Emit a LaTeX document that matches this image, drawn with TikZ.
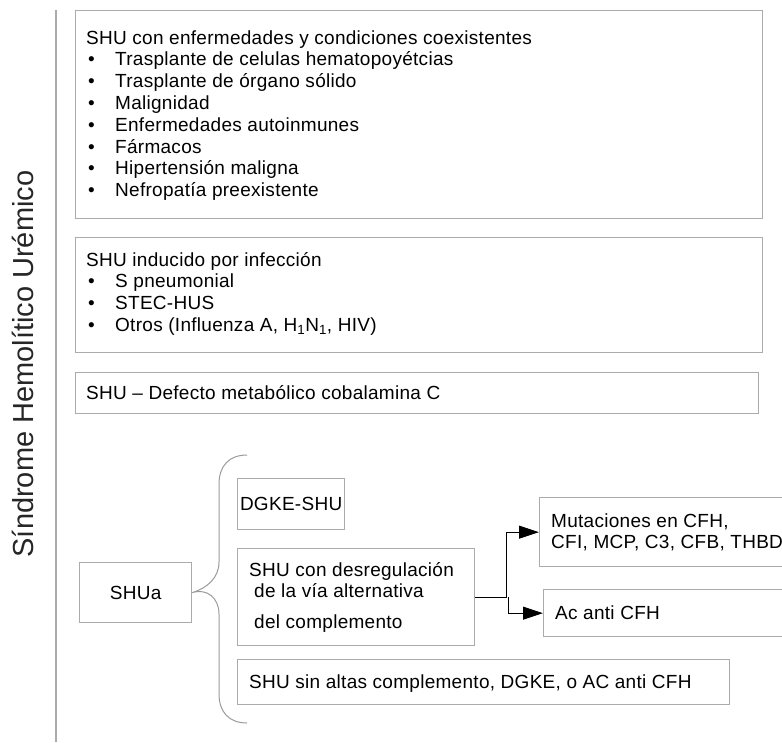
\documentclass[tikz,border=0pt]{standalone}
\usepackage{fontspec}
\setmainfont{Liberation Sans}
\newfontfamily\bodyfont{Liberation Sans}[LetterSpace=1.5]
\usetikzlibrary{arrows.meta}
\definecolor{boxline}{HTML}{ABABAB}
\definecolor{bracegray}{HTML}{9A9A9A}
\definecolor{titlegray}{HTML}{262626}
\newcommand\bodytext{\bodyfont\fontsize{19}{22}\selectfont}
\newcommand\titletext{\fontsize{29}{34}\selectfont}

\begin{document}
\begin{tikzpicture}[x=1pt,y=-1pt,
  box/.style={draw=boxline, line width=1.3pt, rectangle, inner sep=0pt, anchor=north west, font=\bodytext},
  txt/.style={anchor=base west, inner sep=0pt, font=\bodytext},
  link/.style={draw=black, line width=1pt},
  tip/.style={-{Triangle[length=20pt,width=13pt]}}]
\useasboundingbox (0,0) rectangle (782,742);
\clip (0,0) rectangle (782,742);

% side title and rule
\node[anchor=base, rotate=90, inner sep=0pt, font=\titletext, text=titlegray] (title) at (33,364) {Síndrome Hemolítico Urémico};
\draw[draw=boxline, line width=1.5pt] (56,10) -- (56,742);

% upper category boxes
\node[box, minimum width=687pt, minimum height=208pt] (coex) at (75,10) {};
\node[box, minimum width=687pt, minimum height=115pt] (inf) at (75,237) {};
\node[box, minimum width=683pt, minimum height=41pt] (cob) at (75,372) {};

\node[txt] (coexh) at (86,44) {SHU con enfermedades y condiciones coexistentes};
\foreach \t [count=\i] in {Trasplante de celulas hematopoyétcias, Trasplante de órgano sólido, Malignidad, Enfermedades autoinmunes, Fármacos, Hipertensión maligna, Nefropatía preexistente}{
  \node[txt] (coexb\i) at (88,{44+21.83*\i}) {•};
  \node[txt] (coexi\i) at (115,{44+21.83*\i}) {\t};
}

\node[txt] (infh) at (86,266) {SHU inducido por infección};
\foreach \t [count=\i] in {S pneumonial, STEC-HUS, {Otros (Influenza A, H\textsubscript{1}N\textsubscript{1}, HIV)}}{
  \node[txt] (infb\i) at (88,{266+21.8*\i}) {•};
  \node[txt] (infi\i) at (115,{266+21.8*\i}) {\t};
}

\node[txt] (cobt) at (86,399) {SHU – Defecto metabólico cobalamina C};

% aHUS branch
\node[box, minimum width=112pt, minimum height=60pt] (shua) at (79,562) {SHUa};
\node[box, minimum width=107pt, minimum height=51pt] (dgke) at (237,478) {DGKE-SHU};
\node[box, minimum width=237pt, minimum height=97pt] (desreg) at (237,548) {};
\node[box, minimum width=492pt, minimum height=45pt] (sin) at (237,659) {};
\node[box, minimum width=270pt, minimum height=69pt] (mut) at (539,497) {};
\node[box, minimum width=260pt, minimum height=47pt] (acf) at (543,589) {};

\node[txt] (desreg1) at (249,576) {SHU con desregulación};
\node[txt] (desreg2) at (254,597) {de la vía alternativa};
\node[txt] (desreg3) at (254,628) {del complemento};
\node[txt] (sint) at (249,688) {SHU sin altas complemento, DGKE, o AC anti CFH};
\node[txt] (mut1) at (551,527) {Mutaciones en CFH,};
\node[txt] (mut2) at (551,548) {CFI, MCP, C3, CFB, THBD};
\node[txt] (acft) at (555,619) {Ac anti CFH};

% curly brace grouping the aHUS subtypes
\draw[bracegray, line width=1pt] (247,455) .. controls (229,455) and (219,466) .. (219,484)
  -- (219,562) .. controls (219,578) and (207,588) .. (shua.east)
  .. controls (207,588) and (219,598) .. (219,614)
  -- (219,694) .. controls (219,712) and (229,723) .. (247,723);

% arrows to the complement causes
\coordinate (split) at (506,0);
\coordinate (split2) at (508,0);
\draw[link, tip] (desreg.east) -- (desreg.east -| split) |- (mut.west);
\draw[link, tip] (desreg.east -| split2) |- (acf.west);
\end{tikzpicture}
\end{document}
